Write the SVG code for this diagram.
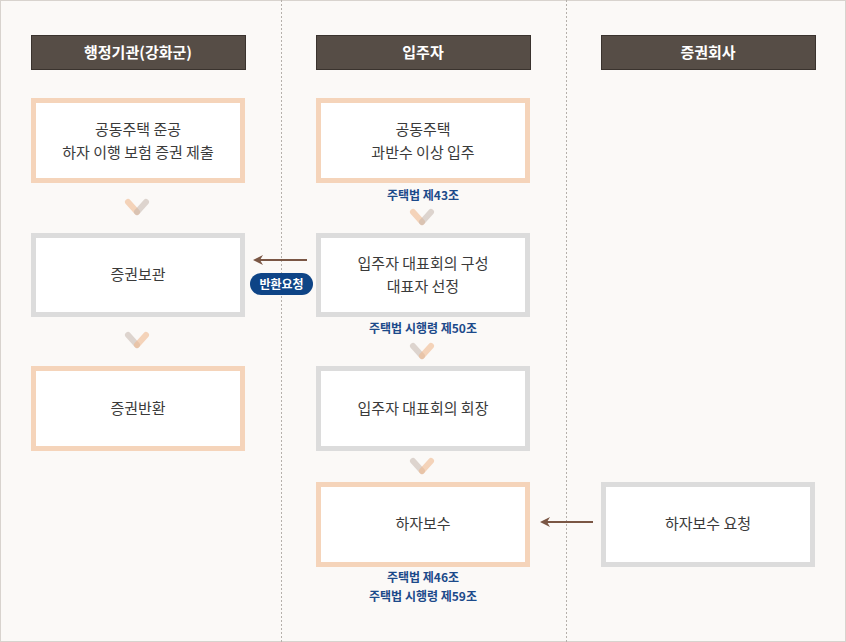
<svg xmlns="http://www.w3.org/2000/svg" width="846" height="642" viewBox="0 0 846 642">
<defs>
<style>
.bg{fill:#fbf9f7;stroke:#d8d3ce;stroke-width:1}
.div{stroke:#b5b0ab;stroke-width:1;stroke-dasharray:2 2}
.hd{fill:#564d46;stroke:#3a332e;stroke-width:1}
.ht{fill:#fff;font-family:"Noto Sans CJK KR","Noto Sans",sans-serif;font-size:15px;font-weight:bold;text-anchor:middle}
.bp{fill:#fff;stroke:#f5d4ba;stroke-width:5}
.bg2{fill:#fff;stroke:#dcdcdc;stroke-width:5}
.bt{fill:#3a3a3a;font-family:"Noto Sans CJK KR","Noto Sans",sans-serif;font-size:15px;text-anchor:middle}
.lt{fill:#1c4a8a;font-family:"Noto Sans CJK KR","Noto Sans",sans-serif;font-size:12px;font-weight:bold;text-anchor:middle}
.cp{stroke:#f0b98f;stroke-opacity:0.6;stroke-width:6;stroke-linecap:round;fill:none}
.cg{stroke:#c4b7ad;stroke-opacity:0.55;stroke-width:6;stroke-linecap:round;fill:none}
.ar{stroke:#7a5644;stroke-width:2;fill:none}
.badge{fill:#0e4486}
.bdt{fill:#fff;font-family:"Noto Sans CJK KR","Noto Sans",sans-serif;font-size:12px;font-weight:bold;text-anchor:middle}
</style>
<marker id="ah" viewBox="0 0 10 10" refX="8" refY="5" markerWidth="5" markerHeight="5" orient="auto" markerUnits="strokeWidth">
<path d="M0,0 L10,5 L0,10 L3,5 Z" fill="#7a5644"/>
</marker>
</defs>
<rect class="bg" x="0.5" y="0.5" width="845" height="641"/>
<line class="div" x1="281.5" y1="0" x2="281.5" y2="642"/>
<line class="div" x1="566.5" y1="0" x2="566.5" y2="642"/>

<g id="h-admin"><rect class="hd" x="31.5" y="35.5" width="214" height="34"/><text class="ht" x="138" y="58">행정기관(강화군)</text></g>
<g id="h-resident"><rect class="hd" x="316.5" y="35.5" width="214" height="34"/><text class="ht" x="423" y="58">입주자</text></g>
<g id="h-insurer"><rect class="hd" x="601.5" y="35.5" width="214" height="34"/><text class="ht" x="708" y="58">증권회사</text></g>

<g id="n-submit"><rect class="bp" x="33.5" y="100.5" width="209" height="80"/><text class="bt" x="138" y="135">공동주택 준공</text><text class="bt" x="138" y="158">하자 이행 보험 증권 제출</text></g>
<g id="n-keep"><rect class="bg2" x="33.5" y="235.5" width="209" height="79"/><text class="bt" x="138" y="280">증권보관</text></g>
<g id="n-return"><rect class="bp" x="33.5" y="368.5" width="209" height="80"/><text class="bt" x="138" y="414">증권반환</text></g>

<g id="n-movein"><rect class="bp" x="318.5" y="100.5" width="209" height="80"/><text class="bt" x="423" y="135">공동주택</text><text class="bt" x="423" y="158">과반수 이상 입주</text></g>
<g id="n-council"><rect class="bg2" x="318.5" y="235.5" width="209" height="79"/><text class="bt" x="423" y="269">입주자 대표회의 구성</text><text class="bt" x="423" y="292">대표자 선정</text></g>
<g id="n-chair"><rect class="bg2" x="318.5" y="368.5" width="209" height="80"/><text class="bt" x="423" y="414">입주자 대표회의 회장</text></g>
<g id="n-repair"><rect class="bp" x="318.5" y="484.5" width="209" height="80"/><text class="bt" x="423" y="529">하자보수</text></g>

<g id="n-request"><rect class="bg2" x="603.5" y="484.5" width="209" height="80"/><text class="bt" x="708" y="529">하자보수 요청</text></g>

<g id="labels">
<text class="lt" x="423" y="200">주택법 제43조</text>
<text class="lt" x="423" y="333">주택법 시행령 제50조</text>
<text class="lt" x="423" y="582">주택법 제46조</text>
<text class="lt" x="423" y="601">주택법 시행령 제59조</text>
</g>

<g id="connectors">
<path class="cp" d="M128,202 L137,212"/><path class="cg" d="M146,202 L137,212"/>
<path class="cg" d="M128,335 L137,345"/><path class="cp" d="M146,335 L137,345"/>
<path class="cp" d="M413,212 L422,222"/><path class="cg" d="M431,212 L422,222"/>
<path class="cg" d="M413,346 L422,356"/><path class="cp" d="M431,346 L422,356"/>
<path class="cg" d="M413,461 L422,471"/><path class="cp" d="M431,461 L422,471"/>
<line class="ar" x1="307" y1="260" x2="255" y2="260" marker-end="url(#ah)"/>
<line class="ar" x1="593" y1="522" x2="542" y2="522" marker-end="url(#ah)"/>
<g id="badge"><rect class="badge" x="250" y="273" width="63" height="22" rx="11"/><text class="bdt" x="281.5" y="288.5">반환요청</text></g>
</g>
</svg>
